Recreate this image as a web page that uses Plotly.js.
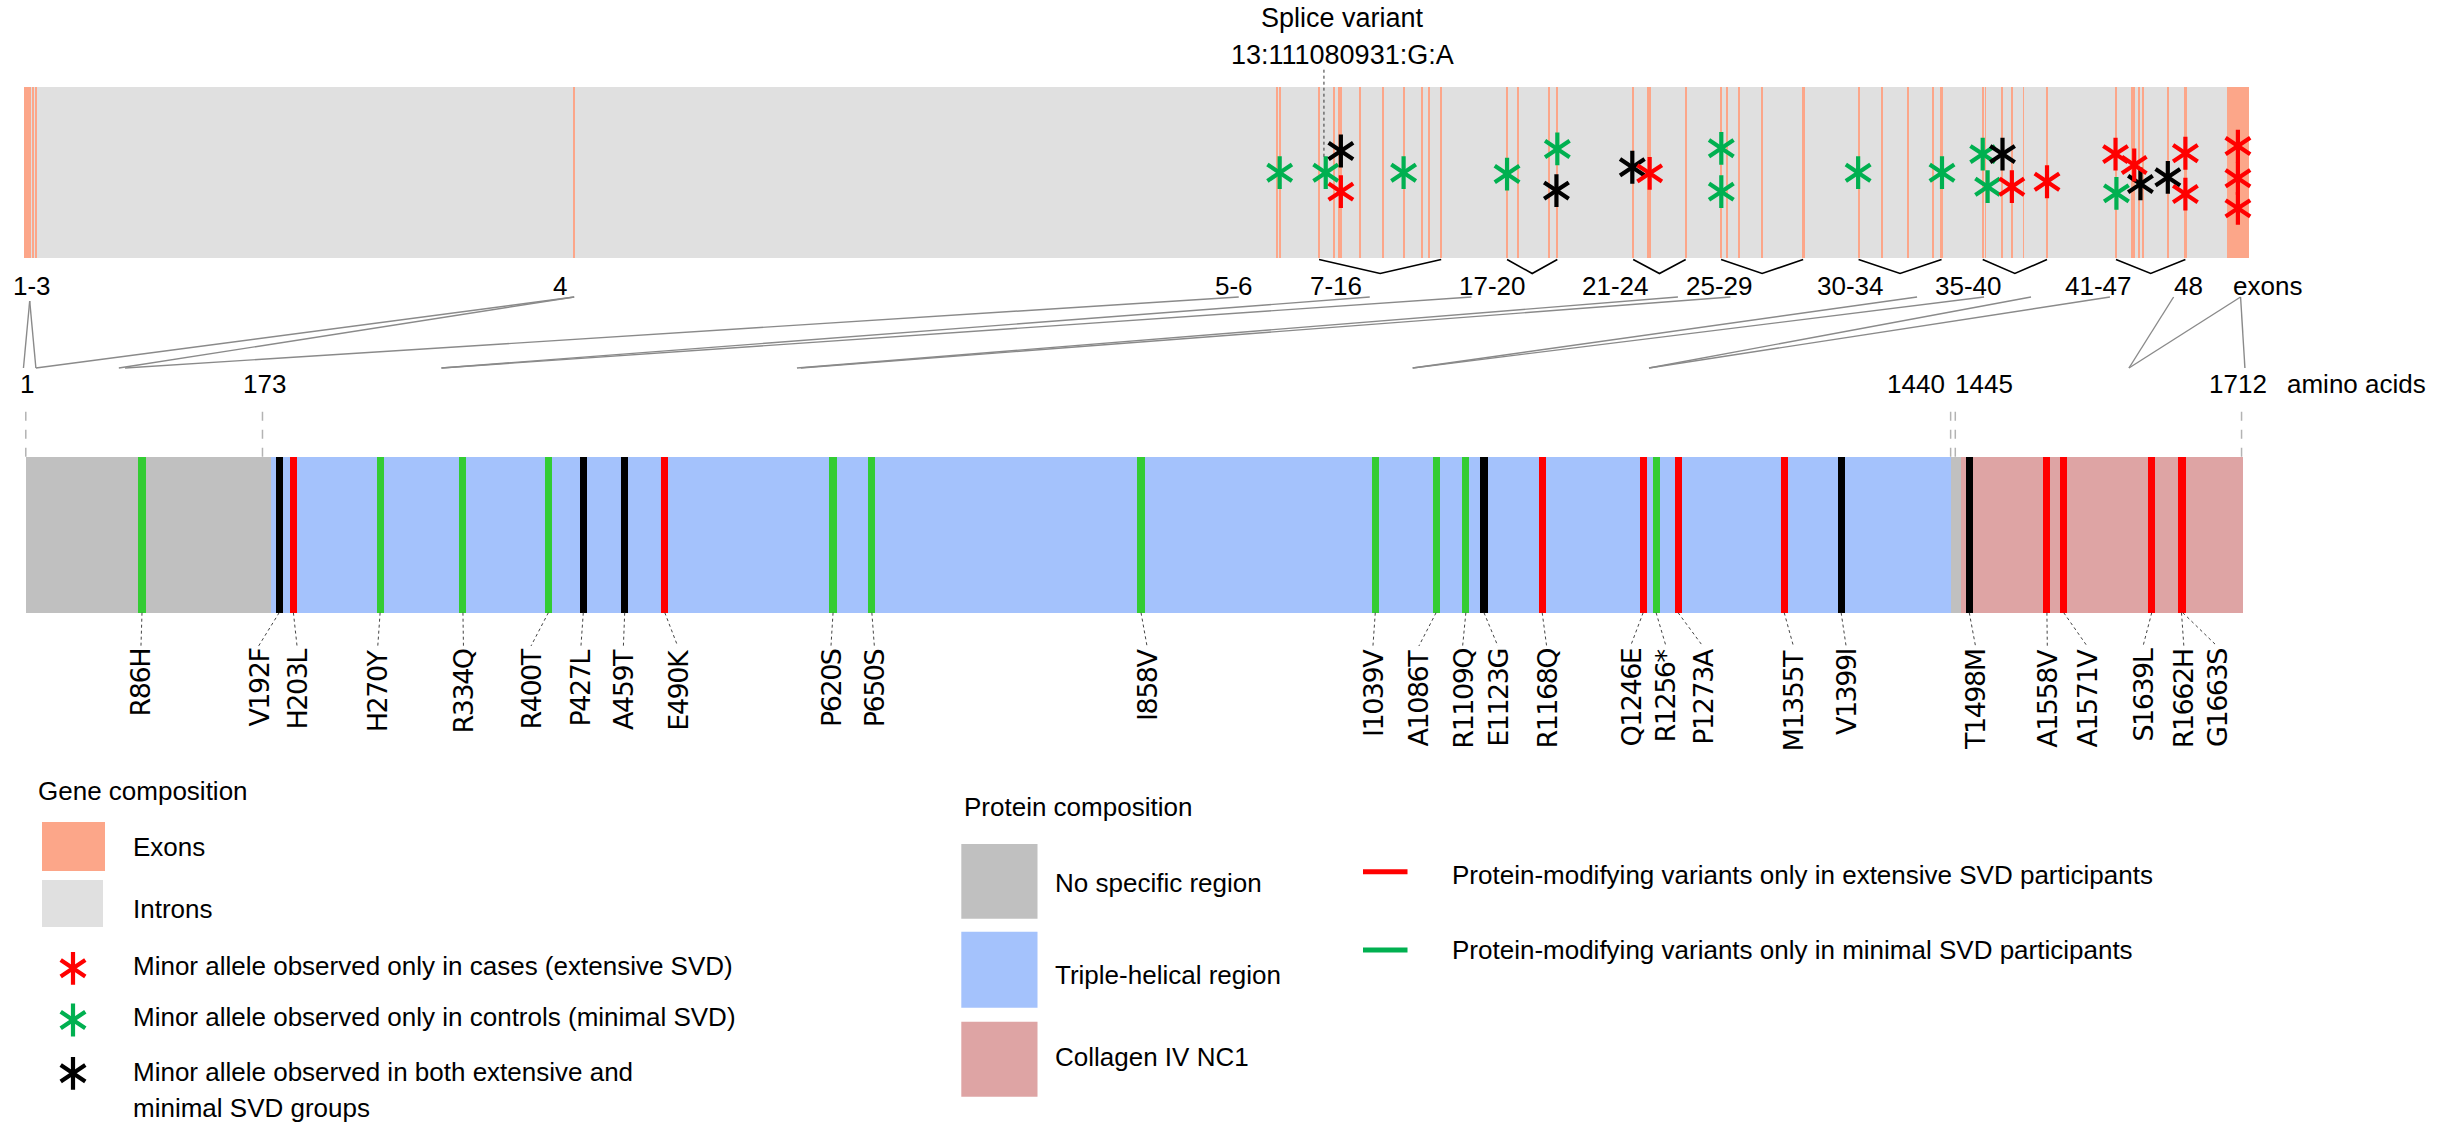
<!DOCTYPE html>
<html><head><meta charset="utf-8">
<script src="https://cdn.plot.ly/plotly-3.0.1.min.js"></script>
<style>html,body{margin:0;padding:0;background:#fff;}#chart{width:2451px;height:1124px;}</style>
</head><body><div id="chart"></div>
<script>
// ================= DATA =================
// Gene: positions in % of gene length
const exonNumbers = [1,2,3,4,5,6,7,8,9,10,11,12,13,14,15,16,17,18,19,20,21,22,23,24,25,26,27,28,29,30,31,32,33,34,35,36,37,38,39,40,41,42,43,44,45,46,47,48];
const exonMid = [0.15,0.39,0.54,24.72,56.34,56.46,58.21,58.86,59.12,59.21,60.07,61.07,62.01,62.85,63.14,63.70,66.66,67.17,68.56,68.92,72.33,72.99,73.10,74.69,76.28,76.54,77.08,78.14,79.97,82.46,83.52,84.68,85.82,86.19,88.04,88.17,88.92,89.35,89.87,90.93,94.03,94.74,94.83,95.06,95.25,96.36,97.15,99.50];
const exonLen = [0.30,0.08,0.08,0.09,0.09,0.09,0.09,0.09,0.08,0.08,0.09,0.09,0.09,0.09,0.08,0.10,0.09,0.09,0.09,0.10,0.09,0.09,0.09,0.10,0.10,0.09,0.06,0.09,0.15,0.09,0.10,0.09,0.09,0.10,0.08,0.06,0.09,0.09,0.08,0.09,0.10,0.08,0.08,0.08,0.08,0.09,0.16,1.00];
const exonGroupLabels = ['1-3','4','5-6','7-16','17-20','21-24','25-29','30-34','35-40','41-47','48'];

// Gene variants (asterisks): position (% of gene) and vertical level inside the bar (0-1)
const casesPos    = [59.19,73.07,89.35,90.93,94.01,94.85,97.15,97.15,99.51,99.51,99.51];
const casesLevel  = [0.387,0.494,0.416,0.445,0.607,0.543,0.612,0.373,0.654,0.465,0.289];
const controlsPos   = [56.44,58.51,62.01,66.66,68.92,76.29,76.29,82.44,86.21,88.04,88.26,94.05];
const controlsLevel = [0.498,0.498,0.498,0.490,0.637,0.641,0.387,0.498,0.498,0.607,0.416,0.377];
const bothPos   = [59.19,68.88,72.29,88.93,95.13,96.36];
const bothLevel = [0.625,0.393,0.530,0.607,0.432,0.471];
const spliceVariantName = ['Splice variant','13:111080931:G:A'];
const spliceVariantPos = 58.43;

// Protein: amino-acid positions as drawn
const regionNames = ['No specific region','Triple-helical region','No specific region','Collagen IV NC1'];
const regionStart = [-3.6, 185.7, 1483.6, 1491.6];
const regionEnd   = [185.7, 1483.6, 1491.6, 1709.5];
const aaTickText = ['1','173','1440','1445','1712'];
const aaTickPos  = [-3.8, 179.1, 1483.6, 1487.2, 1708.4];

const variantName = ['R86H','V192F','H203L','H270Y','R334Q','R400T','P427L','A459T','E490K','P620S','P650S','I858V','I1039V','A1086T','R1109Q','E1123G','R1168Q','Q1246E','R1256*','P1273A','M1355T','V1399I','T1498M','A1558V','A1571V','S1639L','R1662H','G1663S'];
const variantPos  = [86,192,203,270,334,400,427,459,490,620,650,858,1039,1086,1109,1123,1168,1246,1256,1273,1355,1399,1498,1558,1571,1639,1662,1663];
const variantGroup = ['minimal','both','extensive','minimal','minimal','minimal','both','both','extensive','minimal','minimal','minimal','minimal','minimal','minimal','both','extensive','extensive','minimal','extensive','extensive','both','both','extensive','extensive','extensive','extensive','extensive'];

// ================= LAYOUT CONSTANTS =================
const W = 2451, H = 1124;
const FONT = 'Liberation Sans, Arial, sans-serif';
const LFONT = 'DejaVu Sans, Verdana, sans-serif';
const GENE_PX0 = 24, GENE_PX1 = 2248.8, GENE_TOP = 87, GENE_BOT = 257.7;
const AA1_PX = 32, AA_SCALE = 1.2941, PROT_TOP = 456.7, PROT_BOT = 612.7;
const GENE_AREA = [0, 345], PROT_AREA = [372, 760];   // pixel bands of the two subplots
const gScale = (GENE_PX1 - GENE_PX0) / 100;
const geneRange = [-GENE_PX0 / gScale, (W - GENE_PX0) / gScale];
const protRange = [1 - AA1_PX / AA_SCALE, 1 + (W - AA1_PX) / AA_SCALE];
const gy = py => (GENE_BOT - py) / (GENE_BOT - GENE_TOP);
const py2 = py => (PROT_BOT - py) / (PROT_BOT - PROT_TOP);
const PX = px => px / W, PY = py => 1 - py / H;
const geneToPx = p => GENE_PX0 + p * gScale;
const aaToPx = a => AA1_PX + (a - 1) * AA_SCALE;

const groupLabelAt = [0.355,24.08,54.4,58.95,65.99,71.53,76.22,82.09,87.39,93.23,97.29];
const labelAt = [85.2,176.1,205.8,268.2,334.4,386.6,425.2,458,499.9,618.4,651.9,862.6,1037.2,1072.7,1106.5,1133.7,1171.4,1236.3,1263.6,1292,1362.1,1402.8,1502.8,1558.3,1589,1632.3,1663.8,1689.4];
const connectorTop = [0.256,0.256,24.73,24.73,54.60,60.49,65.06,74.34,76.70,85.09,88.10,90.21,93.76,96.62,99.63,99.63];
const connectorBottom = [-5.6,4.0,4.0,68.1,72.9,317.4,317.4,592.1,595.1,1067.9,1067.9,1250.5,1250.5,1621.4,1621.4,1711.0];

const COL = {exon:'#fca689', intron:'#e0e0e0', red:'#ff0000', green:'#00b050', black:'#000000',
  minimal:'#33cc33', both:'#000000', extensive:'#ff0000'};
const regionColor = {'No specific region':'#c0c0c0','Triple-helical region':'#a4c2fc','Collagen IV NC1':'#dea4a4'};
const STAR_SIZE = 20.5, STAR_LW = 4.2;

// ================= TRACES =================
const traces = [];
traces.push({type:'bar', x:[50], width:[100], y:[1], base:[0], xaxis:'x', yaxis:'y',
  marker:{color:COL.intron, line:{width:0}}, hoverinfo:'skip', showlegend:false});
traces.push({type:'bar', x:exonMid, width:exonLen, y:exonMid.map(()=>1), base:exonMid.map(()=>0),
  xaxis:'x', yaxis:'y', marker:{color:COL.exon, line:{width:0}}, text:exonNumbers.map(n=>'Exon '+n),
  hoverinfo:'text', textposition:'none', showlegend:false});

function starTraces(xs, ys, color, xa, ya){
  return ['y-up-open','y-down-open'].map(sym => ({type:'scatter', mode:'markers', x:xs, y:ys, xaxis:xa, yaxis:ya,
    marker:{symbol:sym, size:STAR_SIZE, color:color, line:{color:color, width:STAR_LW}}, hoverinfo:'skip', showlegend:false, cliponaxis:false}));
}
traces.push(...starTraces(controlsPos, controlsLevel, COL.green, 'x', 'y'));
traces.push(...starTraces(bothPos, bothLevel, COL.black, 'x', 'y'));
traces.push(...starTraces(casesPos, casesLevel, COL.red, 'x', 'y'));

traces.push({type:'bar', x:regionStart.map((s,i)=>(s+regionEnd[i])/2), width:regionStart.map((s,i)=>regionEnd[i]-s),
  y:regionStart.map(()=>1), base:regionStart.map(()=>0), xaxis:'x2', yaxis:'y2',
  marker:{color:regionNames.map(n=>regionColor[n]), line:{width:0}}, text:regionNames, hoverinfo:'text', textposition:'none', showlegend:false});
traces.push({type:'bar', x:variantPos, width:variantPos.map(()=>5.5), y:variantPos.map(()=>1), base:variantPos.map(()=>0),
  xaxis:'x2', yaxis:'y2', marker:{color:variantGroup.map(g=>COL[g]), line:{width:0}}, text:variantName,
  hoverinfo:'text', textposition:'none', showlegend:false});

const legStarX = 73, legStarY = [968.3, 1020, 1073.3];
traces.push(...starTraces([legStarX],[legStarY[0]], COL.red, 'x3','y3'));
traces.push(...starTraces([legStarX],[legStarY[1]], COL.green, 'x3','y3'));
traces.push(...starTraces([legStarX],[legStarY[2]], COL.black, 'x3','y3'));

// ================= SHAPES & ANNOTATIONS =================
const shapes = [], annotations = [];
const txt = (o) => Object.assign({showarrow:false, xanchor:'center', yanchor:'middle', font:{family:FONT, size:26, color:'#000'}}, o);

shapes.push({type:'line', xref:'x', yref:'y', x0:spliceVariantPos, x1:spliceVariantPos, y0:gy(156.7), y1:gy(68.3),
  line:{color:'#333', width:1, dash:'dot'}});
annotations.push(txt({xref:'x', yref:'y', x:59.27, y:gy(18.3), text:spliceVariantName[0], font:{family:FONT,size:27,color:'#000'}}));
annotations.push(txt({xref:'x', yref:'y', x:59.27, y:gy(55), text:spliceVariantName[1], font:{family:FONT,size:27,color:'#000'}}));

exonGroupLabels.forEach((lab, i) => {
  annotations.push(txt({xref:'x', yref:'y', x:groupLabelAt[i], y:gy(286), text:lab}));
  const parts = lab.split('-').map(Number);
  if (parts.length === 2 && parts[1] - parts[0] >= 3) {
    const a = exonMid[parts[0]-1], b = exonMid[parts[1]-1], m = (a+b)/2;
    shapes.push({type:'path', xref:'x', yref:'y', path:`M${a},${gy(259.5)} L${m},${gy(273.5)} L${b},${gy(259.5)}`,
      line:{color:'#000', width:1.6}});
  }
});
annotations.push(txt({xref:'x', yref:'y', x:100.82, y:gy(286), text:'exons'}));

connectorTop.forEach((t, i) => {
  shapes.push({type:'line', xref:'paper', yref:'paper', x0:PX(geneToPx(t)), y0:PY(i<2?301:297),
    x1:PX(aaToPx(connectorBottom[i])), y1:PY(368), line:{color:'#8a8a8a', width:1.4}});
});

aaTickPos.forEach(p => shapes.push({type:'line', xref:'x2', yref:'y2', x0:p, x1:p, y0:1, y1:py2(408),
  line:{color:'#b3b3b3', width:1.5, dash:'dash'}}));
annotations.push(txt({xref:'x2', yref:'y2', x:aaTickPos[0]+1, y:py2(384), text:aaTickText[0]}));
annotations.push(txt({xref:'x2', yref:'y2', x:180.3, y:py2(384), text:aaTickText[1]}));
annotations.push(txt({xref:'x2', yref:'y2', x:aaTickPos[2]-3, y:py2(384), text:aaTickText[2], xanchor:'right'}));
annotations.push(txt({xref:'x2', yref:'y2', x:aaTickPos[3]-2, y:py2(384), text:aaTickText[3], xanchor:'left'}));
annotations.push(txt({xref:'x2', yref:'y2', x:1706, y:py2(384), text:aaTickText[4]}));
annotations.push(txt({xref:'x2', yref:'y2', x:1741.6, y:py2(384), text:'amino acids', xanchor:'left'}));

variantName.forEach((n, i) => {
  shapes.push({type:'line', xref:'x2', yref:'y2', x0:variantPos[i], y0:0, x1:labelAt[i], y1:py2(646),
    line:{color:'#444', width:1, dash:'dot'}});
  annotations.push({xref:'x2', yref:'y2', x:labelAt[i], y:py2(648), text:`<span style="letter-spacing:-1.5px">${n}</span>`,
    textangle:-90, showarrow:false, xanchor:'center', yanchor:'top', borderpad:0, font:{family:LFONT, size:27, color:'#000'}});
});

const L = (x, y, t, o) => annotations.push(txt(Object.assign({xref:'paper', yref:'paper', x:PX(x), y:PY(y), text:t, xanchor:'left'}, o||{})));
const R = (x0, x1, y0, y1, c) => shapes.push({type:'rect', xref:'paper', yref:'paper', x0:PX(x0), x1:PX(x1), y0:PY(y0), y1:PY(y1), fillcolor:c, line:{width:0}});
L(36, 790.8, 'Gene composition');
R(42, 105, 822, 871, COL.exon); L(131, 846.7, 'Exons');
R(42, 103, 880, 927, COL.intron); L(131, 909.3, 'Introns');
L(131, 966, 'Minor allele observed only in cases (extensive SVD)');
L(131, 1016.7, 'Minor allele observed only in controls (minimal SVD)');
L(131, 1071.7, 'Minor allele observed in both extensive and');
L(131, 1108.3, 'minimal SVD groups');
L(962, 807.3, 'Protein composition');
R(961.3, 1037.5, 844, 918.7, regionColor['No specific region']); L(1053, 883.3, 'No specific region');
R(961.3, 1037.5, 931.7, 1007.7, regionColor['Triple-helical region']); L(1053, 975, 'Triple-helical region');
R(961.3, 1037.5, 1021.7, 1096.7, regionColor['Collagen IV NC1']); L(1053, 1057.3, 'Collagen IV NC1');
shapes.push({type:'line', xref:'paper', yref:'paper', x0:PX(1363), x1:PX(1407.5), y0:PY(871.7), y1:PY(871.7), line:{color:COL.red, width:5}});
L(1450, 875, 'Protein-modifying variants only in extensive SVD participants');
shapes.push({type:'line', xref:'paper', yref:'paper', x0:PX(1363), x1:PX(1407.5), y0:PY(950), y1:PY(950), line:{color:COL.green, width:5}});
L(1450, 950, 'Protein-modifying variants only in minimal SVD participants');

const hid = {visible:false, showgrid:false, zeroline:false, fixedrange:true};
const layout = {
  width:W, height:H, margin:{l:0,r:0,t:0,b:0,pad:0}, paper_bgcolor:'#fff', plot_bgcolor:'rgba(0,0,0,0)',
  barmode:'overlay', bargap:0, showlegend:false, font:{family:FONT, size:26, color:'#000'},
  xaxis:Object.assign({domain:[0,1], range:geneRange, anchor:'y'}, hid),
  yaxis:Object.assign({domain:[PY(GENE_AREA[1]), PY(GENE_AREA[0])], range:[gy(GENE_AREA[1]), gy(GENE_AREA[0])], anchor:'x'}, hid),
  xaxis2:Object.assign({domain:[0,1], range:protRange, anchor:'y2'}, hid),
  yaxis2:Object.assign({domain:[PY(PROT_AREA[1]), PY(PROT_AREA[0])], range:[py2(PROT_AREA[1]), py2(PROT_AREA[0])], anchor:'x2'}, hid),
  xaxis3:Object.assign({domain:[0,1], range:[0,W], anchor:'y3'}, hid),
  yaxis3:Object.assign({domain:[0,1], range:[H,0], anchor:'x3'}, hid),
  shapes:shapes, annotations:annotations
};
Plotly.newPlot('chart', traces, layout, {displayModeBar:false, staticPlot:true});
</script></body></html>
